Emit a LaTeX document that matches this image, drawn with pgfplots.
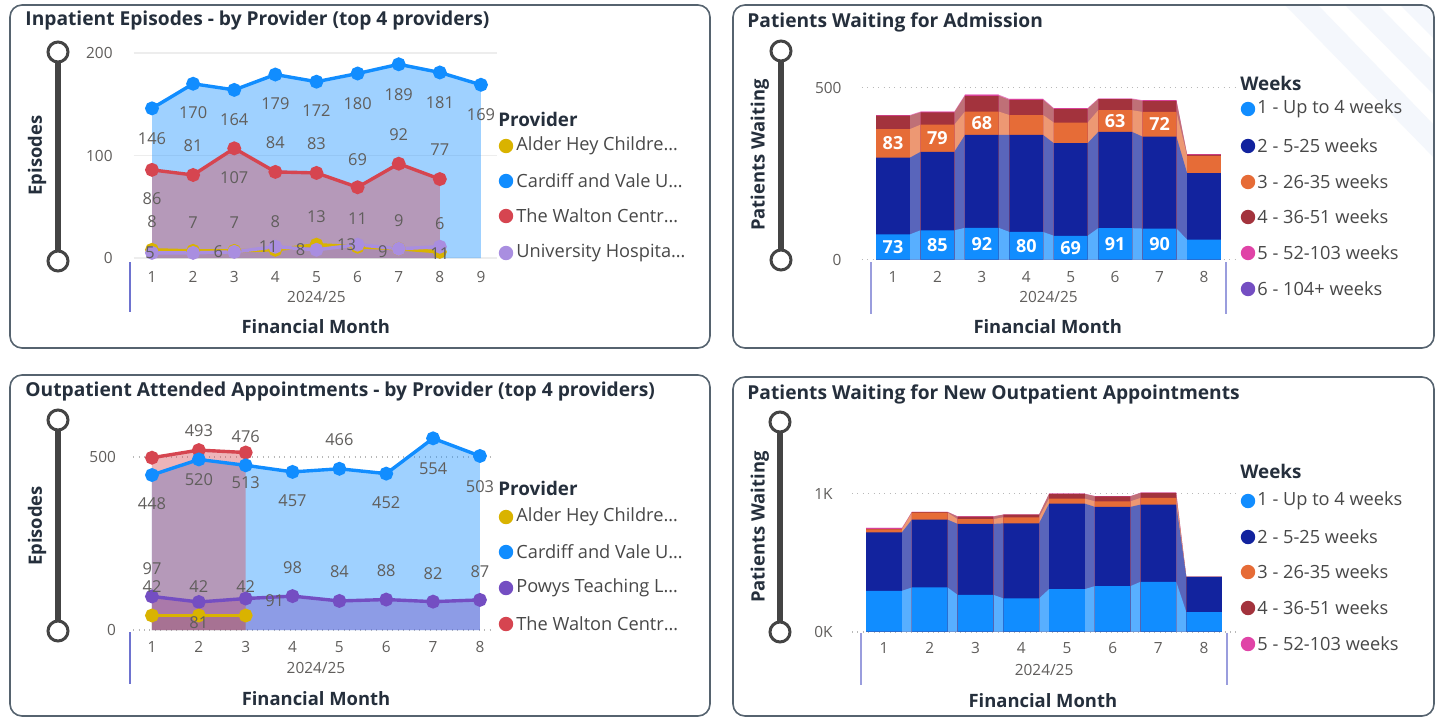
\documentclass[border=0pt]{standalone}
\usepackage{fontspec}
\setmainfont{Open Sans}
\usepackage{pgfplots}
\usepackage{pgfplotstable}
\pgfplotsset{compat=1.18}

\definecolor{pbBlue}{HTML}{118DFF}
\definecolor{pbNavy}{HTML}{12239E}
\definecolor{pbOrange}{HTML}{E66C37}
\definecolor{pbMaroon}{HTML}{A3333D}
\definecolor{pbPink}{HTML}{E044A7}
\definecolor{pbPurple}{HTML}{744EC2}
\definecolor{pbGold}{HTML}{D9B300}
\definecolor{pbRed}{HTML}{D64550}
\definecolor{pbLav}{HTML}{A98EE0}
\definecolor{titleC}{HTML}{252F3C}
\definecolor{tickC}{HTML}{605E5C}
\definecolor{legC}{HTML}{484848}
\definecolor{frameC}{HTML}{56636F}
\definecolor{sepC}{HTML}{6E73CF}
\definecolor{sliderC}{HTML}{444444}
\definecolor{stripeC}{HTML}{F4F7FC}

\newcommand{\tickfont}{\fontsize{7.7}{9}\selectfont}
\newcommand{\labfont}{\fontsize{8.2}{9}\selectfont}
\newcommand{\wlabfont}{\fontsize{9}{10}\selectfont\bfseries}
\newcommand{\titlefont}{\fontsize{9.6}{11}\selectfont\bfseries}
\newcommand{\axtitlefont}{\fontsize{9.2}{11}\selectfont\bfseries}
\newcommand{\legfont}{\fontsize{9.1}{11}\selectfont}
\newcommand{\legtitlefont}{\fontsize{9.4}{11}\selectfont\bfseries}

\pgfplotsset{
  pbi/.style={
    scale only axis, anchor=south west, clip=false,
    axis line style={draw=none}, tick style={draw=none},
    ymin=0,
    ticklabel style={font=\tickfont, text=tickC},
    yticklabel style={anchor=east, inner sep=0pt},
    xticklabel style={anchor=center, inner sep=0pt},
    ymajorgrids,
    /pgf/number format/assume math mode=true,
    label style={font=\axtitlefont, text=titleC, anchor=center},
  },
  lbl/.style={draw=none, mark=none, point meta=explicit symbolic, nodes near coords,
    visualization depends on={\thisrow{dx} \as \dx},
    visualization depends on={\thisrow{dy} \as \dy},
    nodes near coords style={anchor=center, font=\labfont, text=tickC, inner sep=0pt,
      xshift=\dx pt, yshift=\dy pt}},
  ln/.style={line width=1.7pt, mark=*, mark size=2.6pt, mark options={solid}},
  dotgrid/.style={grid style={draw=black!28, line width=0.8pt, dash pattern=on 0.5pt off 2.2pt}},
  rib/.style={draw=none, fill=#1!70!white},
}

% ---------- Panel A : Inpatient episodes ----------
\pgfplotstableread{
x y dx dy
1 8 0 14
2 7 0 14
3 7 0 14
4 8 0 14
5 13 0 14
6 11 0 14
7 9 0 14
8 6 0 14
}\tabAalder
\pgfplotstableread{
x y dx dy
1 146 0 -15
2 170 0 -14.5
3 164 0 -15
4 179 0 -14.5
5 172 0 -14.5
6 180 0 -15
7 189 0 -15
8 181 0 -15
9 169 0 -15
}\tabAcard
\pgfplotstableread{
x y dx dy
1 86 0 -14.5
2 81 0 14.5
3 107 0 -14.5
4 84 0 14.5
5 83 0 14.5
6 69 0 14
7 92 0 14.5
8 77 0 14.5
}\tabAwalt
\pgfplotstableread{
x y
1 5
2 5
3 6
4 11
5 8
6 13
7 9
8 11
}\tabAuni
\pgfplotstableread{
x y dx dy
1 5 -1 0
3 6 -8 0
4 11 -3.5 0
5 8 -8 0
6 13 -5.5 0
7 9 -8 -1.5
8 11 0 -3.5
}\tabAunilab

% ---------- Panel C : Outpatient attended ----------
\pgfplotstableread{
x y dx dy
1 42 0 14.5
2 42 0 14.5
3 42 0 14.5
}\tabCalder
\pgfplotstableread{
x y dx dy
1 448 0 -14.5
2 493 0 14.5
3 476 0 14.5
4 457 0 -14.5
5 466 0 14.5
6 452 0 -14.5
7 554 0 -15
8 503 0 -15.5
}\tabCcard
\pgfplotstableread{
x y dx dy
1 97 0 14
2 81 0 -10.5
3 91 14.5 -1
4 98 0 14
5 84 0 14.5
6 88 0 14.5
7 82 0 14
8 87 0 14
}\tabCpowys
\pgfplotstableread{
x y
1 498
2 520
3 513
}\tabCwalt
\pgfplotstableread{
x y dx dy
2 520 0 -15
3 513 0 -15
}\tabCwaltlab

% ---------- Panel B : waiting for admission (cumulative) ----------
\pgfplotstableread{
x c1 c2 c3 c4 c5
1 73 296 379 418 420
2 85 313 392 428 430
3 92 362 430 476 479
4 80 362 420 464 467
5 69 338 398 438 440
6 91 371 434 466 468
7 90 357 429 461 463
8 58 251 301 305 306
}\tabBbar
\pgfplotstableread{
x c1 c2 c3 c4 c5
0.62 73 296 379 418 420
1.38 73 296 379 418 420
1.62 85 313 392 428 430
2.38 85 313 392 428 430
2.62 92 362 430 476 479
3.38 92 362 430 476 479
3.62 80 362 420 464 467
4.38 80 362 420 464 467
4.62 69 338 398 438 440
5.38 69 338 398 438 440
5.62 91 371 434 466 468
6.38 91 371 434 466 468
6.62 90 357 429 461 463
7.38 90 357 429 461 463
7.62 58 251 301 305 306
8.38 58 251 301 305 306
}\tabBstep

% ---------- Panel D : waiting for new outpatient (cumulative) ----------
\pgfplotstableread{
x c1 c2 c3 c4 c5
1 296 718 740 744 751
2 320 811 861 866 868
3 267 780 814 833 835
4 241 784 828 847 848
5 308 927 963 997 999
6 330 903 944 980 982
7 361 920 968 1004 1006
8 142 397 397 397 397
}\tabDbar
\pgfplotstableread{
x c1 c2 c3 c4 c5
0.61 296 718 740 744 751
1.39 296 718 740 744 751
1.61 320 811 861 866 868
2.39 320 811 861 866 868
2.61 267 780 814 833 835
3.39 267 780 814 833 835
3.61 241 784 828 847 848
4.39 241 784 828 847 848
4.61 308 927 963 997 999
5.39 308 927 963 997 999
5.61 330 903 944 980 982
6.39 330 903 944 980 982
6.61 361 920 968 1004 1006
7.39 361 920 968 1004 1006
7.61 142 397 397 397 397
8.39 142 397 397 397 397
}\tabDstep

\begin{document}
\begin{tikzpicture}[x=0.5pt, y=-0.5pt]
\useasboundingbox (0,0) rectangle (1439,718);
\fill[white] (0,0) rectangle (1439,718);

% decorative stripes, panel B
\begin{scope}
\clip[rounded corners=6pt] (733,5) rectangle (1434,348);
\fill[stripeC] (1285,5) -- (1318,5) -- (1434,125) -- (1434,158) -- cycle;
\fill[stripeC] (1345,5) -- (1378,5) -- (1434,62) -- (1434,95) -- cycle;
\fill[stripeC] (1400,5) -- (1425,5) -- (1434,14) -- (1434,39) -- cycle;
\end{scope}

% ================= Panel A =================
\begin{axis}[pbi, at={(66.75pt,-129pt)},
  width=181.95pt, height=102.5pt,
  xmin=0.55, xmax=9.4, ymax=200,
  xtick={1,...,9}, ytick={0,100,200},
  yticklabel style={xshift=-10.25pt},
  xticklabel style={yshift=-9.5pt},
  grid style={draw=black!7, line width=0.7pt},
  xlabel={Financial Month}, ylabel={Episodes},
  xlabel style={at={(axis description cs:0.501,-0.3366)}},
  ylabel style={at={(axis description cs:-0.2651,0.5)}},
]
\addplot[fill=pbGold, fill opacity=0.4, draw=none] table[x=x,y=y]{\tabAalder} \closedcycle;
\addplot[fill=pbBlue, fill opacity=0.4, draw=none] table[x=x,y=y]{\tabAcard} \closedcycle;
\addplot[fill=pbRed, fill opacity=0.4, draw=none] table[x=x,y=y]{\tabAwalt} \closedcycle;
\addplot[fill=pbLav, fill opacity=0.4, draw=none] table[x=x,y=y]{\tabAuni} \closedcycle;
\addplot[ln, pbBlue] table[x=x,y=y]{\tabAcard};
\addplot[ln, pbRed] table[x=x,y=y]{\tabAwalt};
\addplot[ln, pbGold] table[x=x,y=y]{\tabAalder};
\addplot[ln, pbLav] table[x=x,y=y]{\tabAuni};
\addplot[lbl] table[x=x,y=y,meta=y]{\tabAcard};
\addplot[lbl] table[x=x,y=y,meta=y]{\tabAwalt};
\addplot[lbl] table[x=x,y=y,meta=y]{\tabAalder};
\addplot[lbl] table[x=x,y=y,meta=y]{\tabAunilab};
\node[font=\tickfont, text=tickC] at (axis cs:5,0) [yshift=-19.5pt] {2024/25};
\draw[sepC, line width=0.8pt] (axis cs:0.465,0) ++(0pt,-2pt) -- ++(0pt,-25pt);
\end{axis}

% ================= Panel B =================
\begin{axis}[pbi, dotgrid, at={(430.95pt,-129.75pt)},
  width=186.6pt, height=86pt,
  xmin=0.3, xmax=8.7, ymax=500,
  xtick={1,...,8}, ytick={0,500},
  yticklabel style={xshift=-10pt},
  xticklabel style={yshift=-8.75pt},
  xlabel={Financial Month}, ylabel={Patients Waiting},
  xlabel style={at={(axis description cs:0.498,-0.3924)}},
  ylabel style={at={(axis description cs:-0.2733,0.6076)}},
]
\addplot[rib=pbPink] table[x=x,y=c5]{\tabBstep} \closedcycle;
\addplot[rib=pbMaroon] table[x=x,y=c4]{\tabBstep} \closedcycle;
\addplot[rib=pbOrange] table[x=x,y=c3]{\tabBstep} \closedcycle;
\addplot[rib=pbNavy] table[x=x,y=c2]{\tabBstep} \closedcycle;
\addplot[rib=pbBlue] table[x=x,y=c1]{\tabBstep} \closedcycle;
\addplot[ybar, bar width=0.76, bar shift=0pt, fill=pbPink, draw=none] table[x=x,y=c5]{\tabBbar};
\addplot[ybar, bar width=0.76, bar shift=0pt, fill=pbMaroon, draw=none] table[x=x,y=c4]{\tabBbar};
\addplot[ybar, bar width=0.76, bar shift=0pt, fill=pbOrange, draw=none] table[x=x,y=c3]{\tabBbar};
\addplot[ybar, bar width=0.76, bar shift=0pt, fill=pbNavy, draw=none] table[x=x,y=c2]{\tabBbar};
\addplot[ybar, bar width=0.76, bar shift=0pt, fill=pbBlue, draw=none] table[x=x,y=c1]{\tabBbar};
\addplot[draw=none, mark=none, point meta=explicit symbolic, nodes near coords,
  nodes near coords style={anchor=center, font=\wlabfont, text=white, inner sep=0pt}]
  coordinates {(1,36.5)[73] (2,42.5)[85] (3,46)[92] (4,40)[80] (5,34.5)[69] (6,45.5)[91] (7,45)[90]
               (1,337.5)[83] (2,352.5)[79] (3,396)[68] (6,402.5)[63] (7,393)[72]};
\node[font=\tickfont, text=tickC] at (axis cs:4.5,0) [yshift=-18.75pt] {2024/25};
\draw[sepC!70, line width=0.8pt] (axis cs:0.5,0) ++(0pt,-1.25pt) -- ++(0pt,-25.75pt);
\draw[sepC!70, line width=0.8pt] (axis cs:8.5,0) ++(0pt,-1.25pt) -- ++(0pt,-25.75pt);
\end{axis}

% ================= Panel C =================
\begin{axis}[pbi, dotgrid, at={(66.63pt,-315pt)},
  width=179.9pt, height=103.8pt,
  xmin=0.6, xmax=8.28, ymax=600,
  xtick={1,...,8}, ytick={0,500},
  yticklabel style={xshift=-8.5pt},
  xticklabel style={yshift=-8.5pt},
  xlabel={Financial Month}, ylabel={Episodes},
  xlabel style={at={(axis description cs:0.508,-0.3324)}},
  ylabel style={at={(axis description cs:-0.2676,0.501)}},
]
\addplot[fill=pbGold, fill opacity=0.4, draw=none] table[x=x,y=y]{\tabCalder} \closedcycle;
\addplot[fill=pbBlue, fill opacity=0.4, draw=none] table[x=x,y=y]{\tabCcard} \closedcycle;
\addplot[fill=pbPurple, fill opacity=0.4, draw=none] table[x=x,y=y]{\tabCpowys} \closedcycle;
\addplot[fill=pbRed, fill opacity=0.4, draw=none] table[x=x,y=y]{\tabCwalt} \closedcycle;
\addplot[ln, pbRed] table[x=x,y=y]{\tabCwalt};
\addplot[ln, pbBlue] table[x=x,y=y]{\tabCcard};
\addplot[ln, pbPurple] table[x=x,y=y]{\tabCpowys};
\addplot[ln, pbGold] table[x=x,y=y]{\tabCalder};
\addplot[lbl] table[x=x,y=y,meta=y]{\tabCcard};
\addplot[lbl] table[x=x,y=y,meta=y]{\tabCwaltlab};
\addplot[lbl] table[x=x,y=y,meta=y]{\tabCpowys};
\addplot[lbl] table[x=x,y=y,meta=y]{\tabCalder};
\node[font=\tickfont, text=tickC] at (axis cs:4.5,0) [yshift=-19pt] {2024/25};
\draw[sepC, line width=0.8pt] (axis cs:0.53,0) ++(0pt,-1pt) -- ++(0pt,-26pt);
\end{axis}

% ================= Panel D =================
\begin{axis}[pbi, dotgrid, at={(426pt,-315.85pt)},
  width=193.2pt, height=69.1pt,
  xmin=0.3, xmax=8.75, ymax=1000,
  xtick={1,...,8}, ytick={0,1000}, yticklabels={0K,1K},
  yticklabel style={xshift=-9.5pt},
  xticklabel style={yshift=-8.15pt},
  xlabel={Financial Month}, ylabel={Patients Waiting},
  xlabel style={at={(axis description cs:0.494,-0.5014)}},
  ylabel style={at={(axis description cs:-0.2382,0.7576)}},
]
\addplot[rib=pbPink] table[x=x,y=c5]{\tabDstep} \closedcycle;
\addplot[rib=pbMaroon] table[x=x,y=c4]{\tabDstep} \closedcycle;
\addplot[rib=pbOrange] table[x=x,y=c3]{\tabDstep} \closedcycle;
\addplot[rib=pbNavy] table[x=x,y=c2]{\tabDstep} \closedcycle;
\addplot[rib=pbBlue] table[x=x,y=c1]{\tabDstep} \closedcycle;
\addplot[ybar, bar width=0.78, bar shift=0pt, fill=pbPink, draw=none] table[x=x,y=c5]{\tabDbar};
\addplot[ybar, bar width=0.78, bar shift=0pt, fill=pbMaroon, draw=none] table[x=x,y=c4]{\tabDbar};
\addplot[ybar, bar width=0.78, bar shift=0pt, fill=pbOrange, draw=none] table[x=x,y=c3]{\tabDbar};
\addplot[ybar, bar width=0.78, bar shift=0pt, fill=pbNavy, draw=none] table[x=x,y=c2]{\tabDbar};
\addplot[ybar, bar width=0.78, bar shift=0pt, fill=pbBlue, draw=none] table[x=x,y=c1]{\tabDbar};
\node[font=\tickfont, text=tickC] at (axis cs:4.5,0) [yshift=-19.15pt] {2024/25};
\draw[sepC!70, line width=0.8pt] (axis cs:0.5,0) ++(0pt,-0.7pt) -- ++(0pt,-26pt);
\draw[sepC!70, line width=0.8pt] (axis cs:8.5,0) ++(0pt,-0.7pt) -- ++(0pt,-26pt);
\end{axis}

% ================= frames, titles, sliders, legends =================
\draw[frameC, line width=0.8pt, rounded corners=6pt] (10,5) rectangle (710,348);
\draw[frameC, line width=0.8pt, rounded corners=6pt] (733,5) rectangle (1434,348);
\draw[frameC, line width=0.8pt, rounded corners=6pt] (10,375) rectangle (710,716);
\draw[frameC, line width=0.8pt, rounded corners=6pt] (733,377) rectangle (1434,716);

\node[anchor=west, inner sep=0pt, font=\titlefont, text=titleC] at (25,21) {Inpatient Episodes - by Provider (top 4 providers)};
\node[anchor=west, inner sep=0pt, font=\titlefont, text=titleC] at (747,22) {Patients Waiting for Admission};
\node[anchor=west, inner sep=0pt, font=\titlefont, text=titleC] at (25,392) {Outpatient Attended Appointments - by Provider (top 4 providers)};
\node[anchor=west, inner sep=0pt, font=\titlefont, text=titleC] at (747,394) {Patients Waiting for New Outpatient Appointments};

\foreach \sx/\ya/\yb in {58/52/261, 781/51/260, 58/420/631, 780/422/632}{
  \draw[sliderC, line width=2.6pt] (\sx,\ya) -- (\sx,\yb);
  \draw[sliderC, line width=1.5pt, fill=white] (\sx,\ya) circle[radius=5pt];
  \draw[sliderC, line width=1.5pt, fill=white] (\sx,\yb) circle[radius=5pt];
}

% legend panel A
\node[anchor=west, inner sep=0pt, font=\legtitlefont, text=titleC] at (498,119) {Provider};
\foreach \yy/\cc/\tt in {146/pbGold/Alder Hey Childre…, 181/pbBlue/Cardiff and Vale U…, 216/pbRed/The Walton Centr…, 253/pbLav/University Hospita…}{
  \fill[\cc] (506,\yy) circle[radius=3.6pt];
  \node[anchor=west, inner sep=0pt, font=\legfont, text=legC] at (516,\yy) {\tt};
}
% legend panel C
\node[anchor=west, inner sep=0pt, font=\legtitlefont, text=titleC] at (498,488) {Provider};
\foreach \yy/\cc/\tt in {517/pbGold/Alder Hey Childre…, 552/pbBlue/Cardiff and Vale U…, 588/pbPurple/Powys Teaching L…, 624/pbRed/The Walton Centr…}{
  \fill[\cc] (506,\yy) circle[radius=3.6pt];
  \node[anchor=west, inner sep=0pt, font=\legfont, text=legC] at (516,\yy) {\tt};
}
% legend panel B
\node[anchor=west, inner sep=0pt, font=\legtitlefont, text=titleC] at (1240,83) {Weeks};
\foreach \yy/\cc/\tt in {109/pbBlue/1 - Up to 4 weeks, 146/pbNavy/2 - 5-25 weeks, 182/pbOrange/3 - 26-35 weeks, 217/pbMaroon/4 - 36-51 weeks, 253/pbPink/5 - 52-103 weeks, 289/pbPurple/6 - 104+ weeks}{
  \fill[\cc] (1248,\yy) circle[radius=3.6pt];
  \node[anchor=west, inner sep=0pt, font=\legfont, text=legC] at (1257,\yy) {\tt};
}
% legend panel D
\node[anchor=west, inner sep=0pt, font=\legtitlefont, text=titleC] at (1240,471) {Weeks};
\foreach \yy/\cc/\tt in {501/pbBlue/1 - Up to 4 weeks, 537/pbNavy/2 - 5-25 weeks, 572/pbOrange/3 - 26-35 weeks, 608/pbMaroon/4 - 36-51 weeks, 644/pbPink/5 - 52-103 weeks}{
  \fill[\cc] (1248,\yy) circle[radius=3.6pt];
  \node[anchor=west, inner sep=0pt, font=\legfont, text=legC] at (1257,\yy) {\tt};
}
\end{tikzpicture}
\end{document}
